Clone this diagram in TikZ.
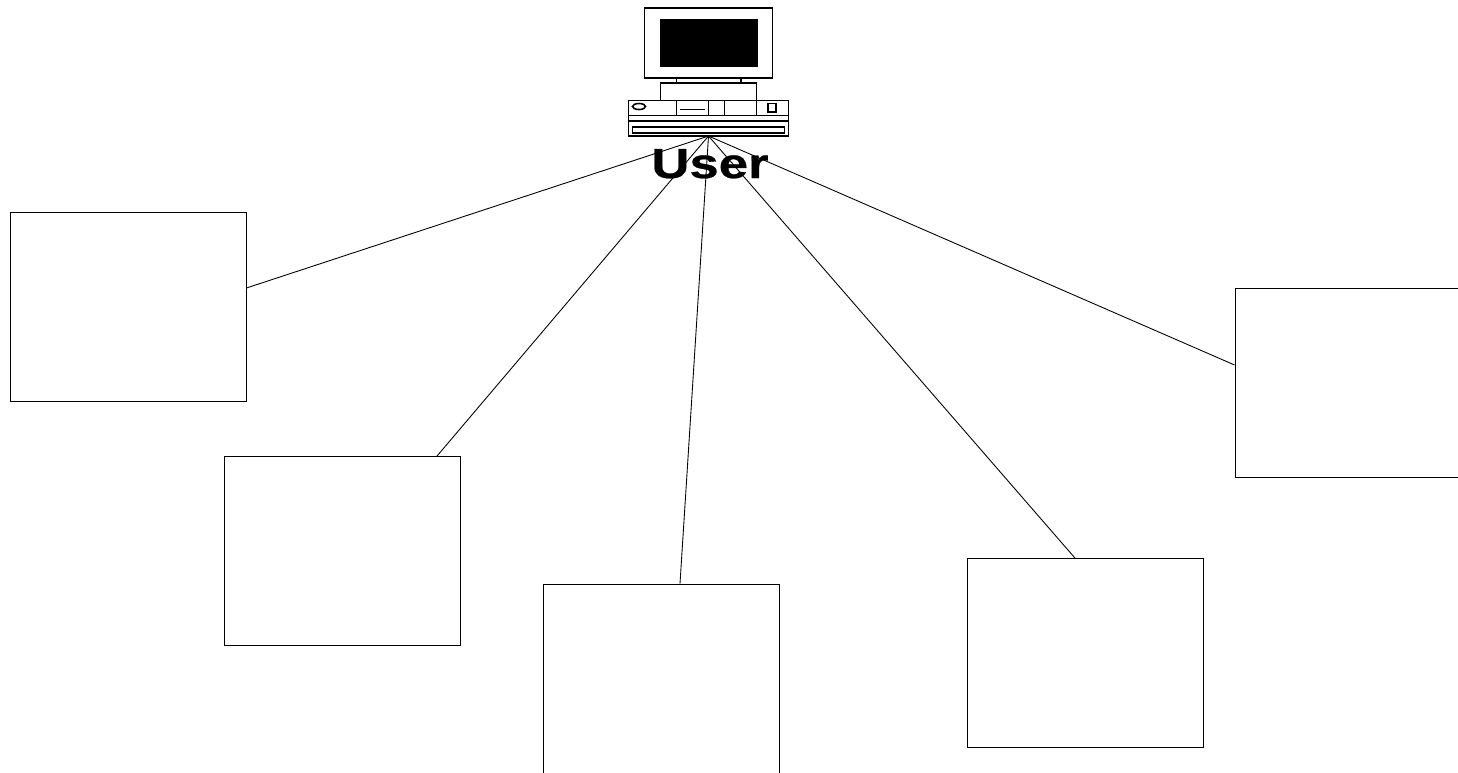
\documentclass[tikz,border=0pt]{standalone}
\usepackage{fontspec}
\setmainfont{Liberation Sans}
\newfontfamily\userfont[FakeStretch=1.25, FakeBold=0.6]{Liberation Sans}
\usetikzlibrary{positioning}
\tikzstyle{block} = [rectangle, minimum width=4.72cm, minimum height=3.78cm, inner sep=0pt, draw=black, line width=0.5pt, fill=white]
\tikzstyle{link} = [line width=0.5pt]
\tikzstyle{part} = [draw=black, line width=0.9pt, fill=white]
\tikzstyle{detail} = [line width=0.7pt]

\begin{document}
\begin{tikzpicture}[x=0.02cm, y=-0.02cm]

    \useasboundingbox (0, 0) rectangle (1458, 772);
    \clip (0, 0) rectangle (1458, 772);

    % boxes
    \node (block0) [block] at (128, 306.5) {};
    \node (block1) [block] at (342, 551) {};
    \node (block2) [block] at (661, 678.5) {};
    \node (block3) [block] at (1085, 653) {};
    \node (block4) [block] at (1353, 382.5) {};

    % computer
    \draw [part] (644.7, 8) rectangle (772.7, 78);
    \draw [draw=black, fill=black] (660.5, 19) rectangle (757, 66);
    \draw [part] (676.5, 78) rectangle (741, 83);
    \draw [part] (660.5, 83) rectangle (756.5, 100.5);
    \draw [part] (628.5, 100.5) rectangle (788.5, 136);
    \draw [detail] (628.5, 115.5) -- (788.5, 115.5);
    \draw [detail] (628.5, 121) -- (788.5, 121);
    \draw [detail] (632.5, 127) rectangle (784.5, 133);
    \foreach \x in {676.5, 708.5, 724.5, 756.5} {
        \draw [detail] (\x, 100.5) -- (\x, 115.5);
    }
    \draw [part] (639, 106.5) ellipse [x radius=6.5, y radius=3];
    \draw [detail] (680, 109.5) -- (705, 109.5);
    \draw [detail] (768, 103.5) rectangle (776, 112);

    \node (user) [anchor=base, inner sep=0pt, font=\fontsize{24}{28}\userfont\bfseries] at (710, 178) {User};
    \coordinate (hub) at (708.5, 136);

    \draw [link] (hub) -- ([yshift=0.37cm]block0.east);
    \draw [link] (hub) -- ([xshift=1.9cm]block1.north);
    \draw [link] (hub) -- ([xshift=0.38cm]block2.north);
    \draw [link] (hub) -- ([xshift=-0.2cm]block3.north);
    \draw [link] (hub) -- ([yshift=0.35cm]block4.west);

\end{tikzpicture}
\end{document}
